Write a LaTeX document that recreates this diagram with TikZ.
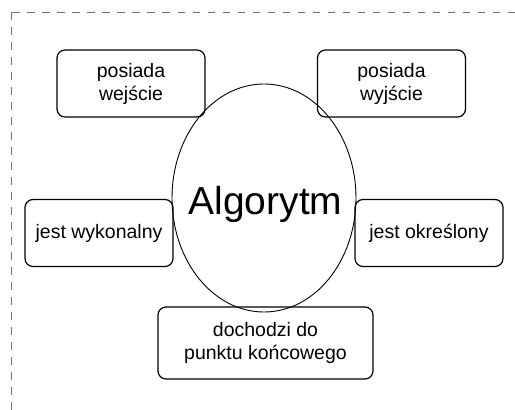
\documentclass[tikz,border=0pt]{standalone}
\usepackage{fontspec}
\setmainfont{Liberation Sans}
\usetikzlibrary{shapes.geometric}
\begin{document}
\begin{tikzpicture}[x=1pt,y=-1pt,
  propbox/.style={draw=black,line width=1.2pt,rounded corners=8pt,
    minimum width=148pt,minimum height=67pt,inner sep=0pt,align=center,
    font=\fontsize{19.5}{23}\selectfont},
  frame/.style={draw=black!55,line width=1pt,dash pattern=on 7.5pt off 7.5pt},
  oval/.style={draw=black,line width=0.9pt,ellipse,minimum width=184pt,minimum height=228pt,inner sep=0pt}]
\clip (0,0) rectangle (515,410);
\fill[white] (0,0) rectangle (515,410);
\coordinate (fa) at (11,12);
\coordinate (fb) at (540,440);
\draw[frame] (fa) rectangle (fb);
\node[propbox] (wej) at (131,83.5) {posiada\\wejście};
\node[propbox] (wyj) at (391.5,83.5) {posiada\\wyjście};
\node[propbox] (wyk) at (99,233) {jest wykonalny};
\node[propbox] (okr) at (429,233) {jest określony};
\node[propbox,minimum width=215pt,minimum height=72pt] (doch) at (265.5,343) {dochodzi do\\punktu końcowego};
\node[oval] (alg) at (264,198) {};
\node[anchor=base,inner sep=0pt,font=\fontsize{39}{44}\selectfont] (algt) at (265.5,214) {Algorytm};
\end{tikzpicture}
\end{document}
